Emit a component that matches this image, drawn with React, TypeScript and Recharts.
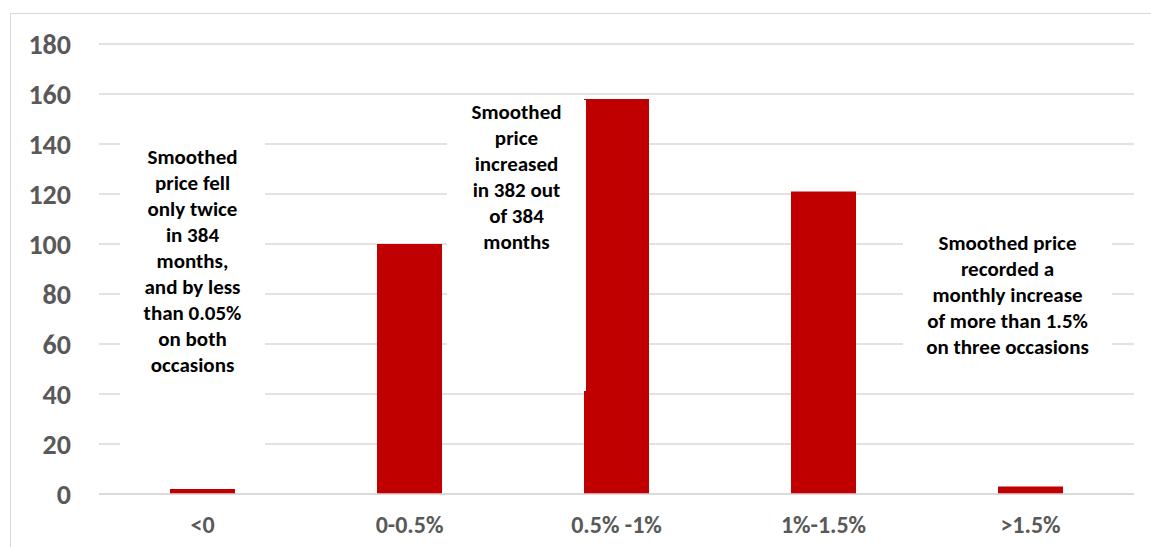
import { BarChart, Bar, XAxis, YAxis, CartesianGrid } from 'recharts';

const categories = ['<0', '0-0.5%', '0.5% -1%', '1%-1.5%', '>1.5%'];
const monthCounts = [2, 100, 158, 121, 3];
const yTicks = [0, 20, 40, 60, 80, 100, 120, 140, 160, 180];

const notes = [
  {
    lines: ['Smoothed', 'price fell', 'only twice', 'in 384', 'months,', 'and by less', 'than 0.05%', 'on both', 'occasions'],
    box: { left: 120, top: 132, width: 145, height: 340 },
    textTop: 144,
  },
  {
    lines: ['Smoothed', 'price', 'increased', 'in 382 out', 'of 384', 'months'],
    box: { left: 447, top: 100, width: 139, height: 291 },
    textTop: 99,
  },
  {
    lines: ['Smoothed price', 'recorded a', 'monthly increase', 'of more than 1.5%', 'on three occasions'],
    box: { left: 903, top: 228, width: 209, height: 140 },
    textTop: 230,
  },
];

const FONT = 'Carlito, Lato, "Open Sans", sans-serif';

const data = categories.map((c, i) => ({ name: c, value: monthCounts[i] }));

export default function App() {
  return (
    <div style={{ position: 'fixed', left: 0, top: 0, width: 1151, height: 547, background: '#fff', overflow: 'hidden', fontFamily: FONT }}>
      <div style={{ position: 'absolute', left: 10, top: 13, width: 1160, height: 560, border: '1.5px solid #d9d9d9' }} />
      <div style={{ position: 'absolute', left: 0, top: 0 }}>
        <BarChart width={1151} height={547} data={data} margin={{ top: 44, right: 17, bottom: 0, left: 0 }}>
          <CartesianGrid vertical={false} stroke="#d9d9d9" strokeWidth={1.5} />
          <XAxis
            dataKey="name"
            height={53}
            axisLine={{ stroke: '#d9d9d9', strokeWidth: 1.5 }}
            tickLine={false}
            tickSize={0}
            tickMargin={22}
            tick={{ fontSize: 24, fontWeight: 700, fill: '#595959', fontFamily: FONT }}
          />
          <YAxis
            width={99}
            domain={[0, 180]}
            ticks={yTicks}
            axisLine={false}
            tickLine={false}
            tickSize={0}
            tickMargin={28}
            tick={{ fontSize: 28, fontWeight: 700, fill: '#595959', fontFamily: FONT }}
          />
          <Bar dataKey="value" fill="#c00000" barSize={65} isAnimationActive={false} />
        </BarChart>
      </div>
      {notes.map((n, i) => (
        <div
          key={i}
          style={{
            position: 'absolute',
            left: n.box.left,
            top: n.box.top,
            width: n.box.width,
            height: n.box.height,
            background: '#fff',
          }}
        />
      ))}
      {notes.map((n, i) => (
        <div
          key={'t' + i}
          style={{
            position: 'absolute',
            left: n.box.left - 30,
            width: n.box.width + 60,
            top: n.textTop,
            textAlign: 'center',
            fontSize: 21,
            fontWeight: 700,
            lineHeight: '26px',
            color: '#000',
          }}
        >
          {n.lines.map((l, j) => (
            <div key={j}>{l}</div>
          ))}
        </div>
      ))}
    </div>
  );
}
